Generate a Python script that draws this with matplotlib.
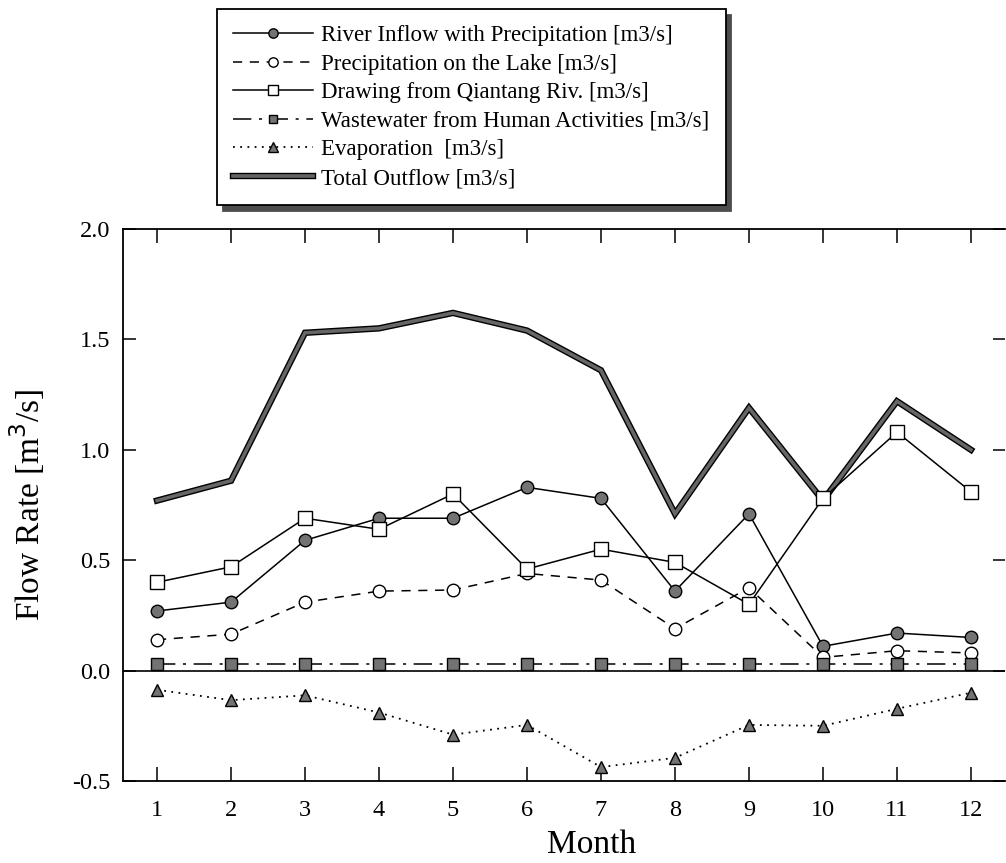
import matplotlib
matplotlib.use("Agg")
import matplotlib.pyplot as plt
import matplotlib.patheffects as pe

plt.rcParams['font.family'] = ['Liberation Serif', 'DejaVu Serif']

months = [1, 2, 3, 4, 5, 6, 7, 8, 9, 10, 11, 12]
river_inflow = [0.27, 0.31, 0.59, 0.69, 0.69, 0.83, 0.78, 0.36, 0.71, 0.11, 0.17, 0.15]
precip_lake = [0.14, 0.165, 0.31, 0.36, 0.365, 0.44, 0.41, 0.19, 0.375, 0.06, 0.09, 0.08]
drawing_qiantang = [0.40, 0.47, 0.69, 0.64, 0.80, 0.46, 0.55, 0.49, 0.30, 0.78, 1.08, 0.81]
wastewater = [0.03, 0.03, 0.03, 0.03, 0.03, 0.03, 0.03, 0.03, 0.03, 0.03, 0.03, 0.03]
evaporation = [-0.087, -0.134, -0.112, -0.19, -0.29, -0.246, -0.437, -0.395, -0.246, -0.25, -0.173, -0.10]
total_outflow = [0.77, 0.86, 1.53, 1.55, 1.62, 1.54, 1.36, 0.71, 1.19, 0.77, 1.22, 1.00]

labels = [
    "River Inflow with Precipitation [m3/s]",
    "Precipitation on the Lake [m3/s]",
    "Drawing from Qiantang Riv. [m3/s]",
    "Wastewater from Human Activities [m3/s]",
    "Evaporation  [m3/s]",
    "Total Outflow [m3/s]",
]
yticks = [-0.5, 0.0, 0.5, 1.0, 1.5, 2.0]
yticklabels = ["-0.5", "0.0", "0.5", "1.0", "1.5", "2.0"]

W, H = 1006, 863
fig = plt.figure(figsize=(W / 100, H / 100), dpi=100)
ax = fig.add_axes([123 / W, 1 - 781 / H, (1005 - 123) / W, (781 - 229) / H])

grey = '0.45'
lw = 1.1

l_total, = ax.plot(months, total_outflow, color='0.4', lw=2.6, solid_joinstyle='miter',
                   path_effects=[pe.Stroke(linewidth=4.6, foreground='black'), pe.Normal()],
                   zorder=2, label=labels[5])
l_river, = ax.plot(months, river_inflow, '-', color='black', lw=lw, marker='o', ms=9,
                   mfc=grey, mec='black', mew=1.0, zorder=4, label=labels[0])
l_precip, = ax.plot(months, precip_lake, color='black', lw=lw, ls=(0, (6, 5)), marker='o', ms=9,
                    mfc='white', mec='black', mew=1.0, zorder=4, label=labels[1])
l_draw, = ax.plot(months, drawing_qiantang, '-', color='black', lw=lw, marker='s', ms=10,
                  mfc='white', mec='black', mew=1.0, zorder=5, label=labels[2])
l_waste, = ax.plot(months, wastewater, color='black', lw=lw, ls=(0, (12, 5, 2, 5)), marker='s', ms=8.5,
                   mfc=grey, mec='black', mew=1.0, zorder=4, label=labels[3])
l_evap, = ax.plot(months, evaporation, color='black', lw=1.3, ls=(0, (1, 3)), marker='^', ms=9,
                  mfc=grey, mec='black', mew=1.0, zorder=4, label=labels[4])

ax.axhline(0.0, color='black', lw=1.2, zorder=1)

ax.set_xlim(0.54, 12.46)
ax.set_ylim(-0.5, 2.0)
ax.set_xticks(months)
ax.set_xticklabels([str(m) for m in months])
ax.set_yticks(yticks)
ax.set_yticklabels(yticklabels)

ax.tick_params(axis='x', direction='in', length=10, width=1.1, top=True, bottom=True,
               labelsize=17.5, pad=14)
ax.tick_params(axis='y', direction='in', length=9, width=1.1, left=True, right=True,
               labelsize=17.5, pad=9)
for s in ['left', 'top', 'bottom']:
    ax.spines[s].set_linewidth(1.3)
ax.spines['right'].set_visible(False)

ax.set_xlabel("Month", fontsize=24)
ax.xaxis.set_label_coords(0.531, -0.087)
ax.set_ylabel("Flow Rate [m$^3$/s]", fontsize=24)
ax.yaxis.set_label_coords(-0.086, 0.5)

handles = [l_river, l_precip, l_draw, l_waste, l_evap, l_total]
leg = fig.legend(handles, labels, loc='upper left', bbox_to_anchor=(217 / W, 1 - 9 / H),
                 borderaxespad=0, fontsize=16.5, labelspacing=0.33, handlelength=3.5,
                 handletextpad=0.35, borderpad=0.7, numpoints=1, markerscale=0.75,
                 fancybox=False, framealpha=1, edgecolor='black',
                 shadow={'ox': 4, 'oy': -4, 'color': '0.3', 'alpha': 1})
leg.get_frame().set_linewidth(1.3)

fig.savefig("out.png", dpi=100)
